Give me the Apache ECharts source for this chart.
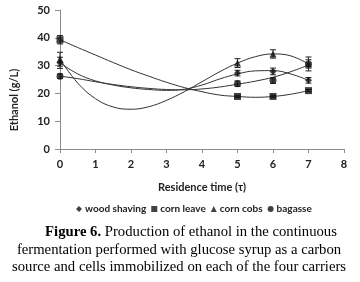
<!DOCTYPE html>
<html>
<head>
<meta charset="utf-8">
<script src="https://cdn.jsdelivr.net/npm/echarts@6/dist/echarts.min.js"></script>
<style>
  html, body { margin: 0; padding: 0; background: #fff; }
  #chart { width: 360px; height: 282px; }
</style>
</head>
<body>
<div id="chart"></div>
<script>
// sampled residence times (measured points)
var times = [0, 5, 6, 7]

var woodShaving = [31.0, 27.3, 27.9, 24.7]
var cornLeave = [39.3, 18.9, 18.9, 21.0]
var cornCobs = [32.3, 30.9, 34.2, 30.6]
var bagasse = [26.2, 23.5, 24.6, 30.6]

// error bar half-heights
var woodErr = [2.0, 1.0, 1.2, 1.0]
var leaveErr = [1.5, 0.4, 0.4, 0.4]
var cobsErr = [2.5, 1.6, 1.5, 2.5]
var bagasseErr = [0.8, 1.0, 1.0, 1.5]

// trendline, every 0.5
var trendX = [0, 0.5, 1, 1.5, 2, 2.5, 3, 3.5, 4, 4.5, 5, 5.5, 6, 6.5, 7]
var woodTrend = [31.0, 27.0, 24.5, 23.0, 22.0, 21.4, 21.1, 21.5, 23.0, 25.2, 27.0, 28.1, 28.2, 27.0, 24.7]
var leaveTrend = [39.3, 36.5, 33.8, 31.1, 28.5, 26.2, 24.0, 22.1, 20.6, 19.4, 18.9, 18.6, 18.9, 19.7, 21.0]
var cobsTrend = [32.3, 23.7, 18.1, 15.1, 14.3, 15.2, 17.5, 20.6, 24.2, 27.8, 30.9, 33.2, 34.2, 33.5, 30.6]
var bagasseTrend = [26.2, 25.3, 24.2, 23.2, 22.4, 21.8, 21.4, 21.3, 21.6, 22.3, 23.3, 24.4, 25.8, 27.8, 30.2]

var xTicks = [0, 1, 2, 3, 4, 5, 6, 7, 8]
var yTicks = [0, 10, 20, 30, 40, 50]

var labelFont = 'Lato, "DejaVu Sans", sans-serif'
var serif = '"Liberation Serif", serif'

function pairs(xs, ys) {
  return xs.map(function(x, i) { return [x, ys[i]] })
}

function errData(ys, errs) {
  return times.map(function(x, i) { return [x, ys[i] - errs[i], ys[i] + errs[i]] })
}

function renderErr(params, api) {
  var lo = api.coord([api.value(0), api.value(1)])
  var hi = api.coord([api.value(0), api.value(2)])
  var w = 3
  var st = { stroke: '#222', lineWidth: 1 }
  return {
    type: 'group',
    children: [
      { type: 'line', shape: { x1: lo[0], y1: lo[1], x2: hi[0], y2: hi[1] }, style: st },
      { type: 'line', shape: { x1: lo[0] - w, y1: lo[1], x2: lo[0] + w, y2: lo[1] }, style: st },
      { type: 'line', shape: { x1: hi[0] - w, y1: hi[1], x2: hi[0] + w, y2: hi[1] }, style: st }
    ]
  }
}

function trend(ys) {
  return {
    type: 'line',
    data: pairs(trendX, ys),
    smooth: 0.4,
    showSymbol: false,
    silent: true,
    lineStyle: { color: '#333', width: 1 },
    z: 2
  }
}

function errSeries(ys, errs) {
  return {
    type: 'custom',
    data: errData(ys, errs),
    renderItem: renderErr,
    silent: true,
    z: 3
  }
}

function points(name, symbol, size, ys) {
  return {
    name: name,
    type: 'scatter',
    symbol: symbol,
    symbolSize: size,
    data: pairs(times, ys),
    itemStyle: { color: '#111' },
    z: 4
  }
}

function caption(x, y, text) {
  return {
    type: 'text',
    x: x,
    y: y,
    style: {
      text: text,
      font: '14.7px ' + serif,
      fill: '#000',
      align: 'center',
      verticalAlign: 'middle',
      rich: { b: { font: 'bold 14.7px ' + serif, fill: '#000' } }
    }
  }
}

var chart = echarts.init(document.getElementById('chart'))
chart.setOption({
  animation: false,
  backgroundColor: '#fff',
  grid: { left: 60, top: 10, width: 284, height: 139 },
  xAxis: {
    type: 'value',
    min: 0,
    max: 8,
    interval: 1,
    name: 'Residence time (τ)',
    nameLocation: 'middle',
    nameGap: 33,
    nameTextStyle: { fontFamily: labelFont, fontWeight: 'bold', fontSize: 11, color: '#222' },
    axisLine: { lineStyle: { color: '#8c8c8c' } },
    axisTick: { length: 4, lineStyle: { color: '#8c8c8c' } },
    axisLabel: {
      margin: 10,
      fontFamily: labelFont,
      fontWeight: 'bold',
      fontSize: 11,
      color: '#222',
      formatter: function(v) { return xTicks.indexOf(v) >= 0 ? String(v) : '' }
    },
    splitLine: { show: false }
  },
  yAxis: {
    type: 'value',
    min: 0,
    max: 50,
    interval: 10,
    axisLine: { show: true, lineStyle: { color: '#8c8c8c' } },
    axisTick: { show: true, length: 5, lineStyle: { color: '#8c8c8c' } },
    axisLabel: {
      margin: 10,
      fontFamily: labelFont,
      fontWeight: 'bold',
      fontSize: 11,
      color: '#222',
      formatter: function(v) { return yTicks.indexOf(v) >= 0 ? String(v) : '' }
    },
    splitLine: { show: false }
  },
  legend: {
    top: 199,
    left: 71,
    itemWidth: 6,
    itemHeight: 6,
    itemGap: 5,
    textStyle: { fontFamily: labelFont, fontWeight: 'bold', fontSize: 10, color: '#222', padding: [0, 0, 0, -2] },
    data: ['wood shaving', 'corn leave', 'corn cobs', 'bagasse']
  },
  graphic: [
    {
      type: 'text',
      x: 14,
      y: 100,
      rotation: Math.PI / 2,
      style: {
        text: 'Ethanol (g/L)',
        font: 'bold 11px ' + labelFont,
        fill: '#222',
        align: 'center',
        verticalAlign: 'middle'
      }
    },
    caption(191, 232, '{b|Figure 6.} Production of ethanol in the continuous'),
    caption(179, 250, 'fermentation performed with glucose syrup as a carbon'),
    caption(179, 267, 'source and cells immobilized on each of the four carriers')
  ],
  series: [
    trend(woodTrend),
    trend(leaveTrend),
    trend(cobsTrend),
    trend(bagasseTrend),
    errSeries(woodShaving, woodErr),
    errSeries(cornLeave, leaveErr),
    errSeries(cornCobs, cobsErr),
    errSeries(bagasse, bagasseErr),
    points('wood shaving', 'diamond', 7, woodShaving),
    points('corn leave', 'rect', 7, cornLeave),
    points('corn cobs', 'triangle', 7, cornCobs),
    points('bagasse', 'circle', 7, bagasse)
  ]
})
</script>
</body>
</html>
